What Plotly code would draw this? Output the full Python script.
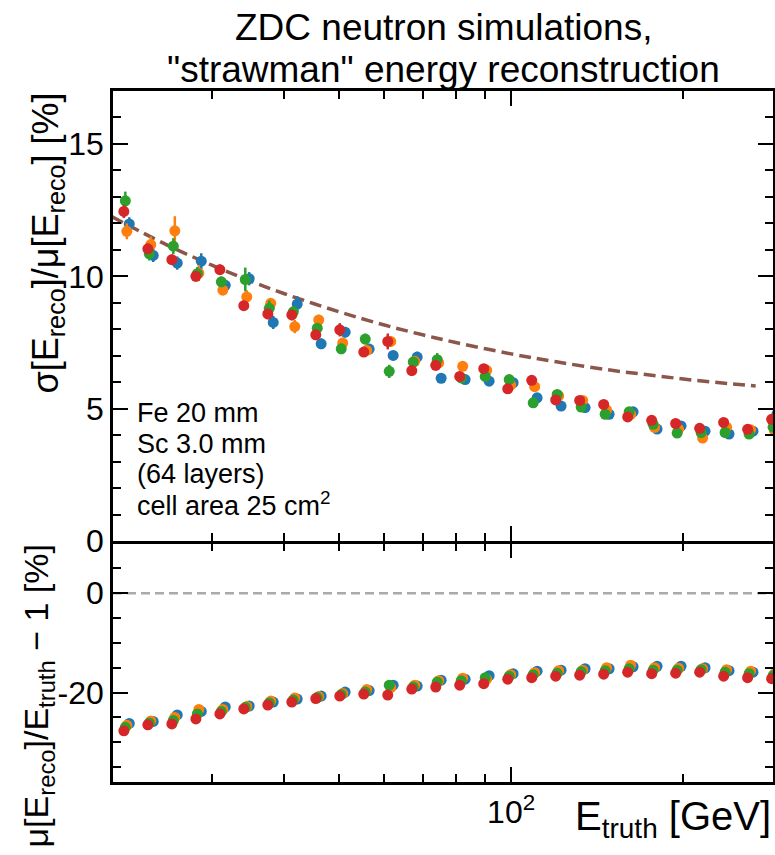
import plotly.graph_objects as go

# ---------------- data ----------------
energy_gev = [20.99, 23.12, 25.47, 28.06, 30.91, 34.04, 37.50, 41.31, 45.50, 50.12,
              55.21, 60.82, 67.00, 73.80, 81.29, 89.55, 98.64, 108.66, 119.69, 131.84,
              145.23, 159.98, 176.22, 194.12, 213.83, 235.54, 259.45, 285.80]

series_names = ["blue", "orange", "green", "red"]
series_colors = ["#1f77b4", "#ff7f0e", "#2ca02c", "#d62728"]

res_blue = [11.98, 10.79, 10.50, 10.57, 9.66, 9.91, 8.26, 8.95, 7.45, 7.89, 7.25, 7.01, 6.95, 6.15,
            6.10, 6.04, 5.98, 5.41, 5.10, 5.04, 4.79, 4.88, 4.23, 4.35, 4.15, 4.04, 4.15, 4.80]
res_orange = [11.70, 11.20, 11.72, 10.12, 9.48, 9.22, 8.98, 8.10, 8.35, 7.48, 7.20, 7.54, 6.79, 6.73,
              6.60, 6.45, 5.89, 5.83, 5.48, 5.31, 4.95, 4.79, 4.29, 4.22, 3.89, 4.30, 4.20, 4.16]
res_green = [12.85, 10.85, 11.14, 10.10, 9.79, 9.88, 8.79, 8.66, 8.04, 7.26, 7.63, 6.41, 6.76, 6.85,
             6.16, 6.22, 6.10, 5.22, 5.54, 5.06, 4.79, 4.88, 4.41, 4.08, 4.10, 4.10, 4.04, 4.30]
res_red = [12.45, 11.04, 10.63, 10.00, 10.25, 8.89, 8.58, 8.54, 7.79, 7.98, 7.14, 7.54, 6.44, 6.64,
           6.22, 6.51, 5.75, 6.07, 5.33, 5.31, 5.16, 4.69, 4.56, 4.44, 4.26, 4.48, 4.22, 4.60]

res_err_blue = [0.25, 0.25, 0.25, 0.30, 0.20, 0.25, 0.25, 0.30, 0.20, 0.20, 0.20, 0.18, 0.20, 0.18,
                0.15, 0.15, 0.15, 0.15, 0.15, 0.12, 0.12, 0.12, 0.12, 0.12, 0.10, 0.10, 0.10, 0.10]
res_err_orange = [0.30, 0.30, 0.55, 0.30, 0.20, 0.25, 0.20, 0.25, 0.20, 0.20, 0.20, 0.20, 0.18, 0.18,
                  0.15, 0.15, 0.15, 0.15, 0.12, 0.12, 0.12, 0.12, 0.12, 0.10, 0.10, 0.10, 0.10, 0.10]
res_err_green = [0.35, 0.25, 0.30, 0.25, 0.20, 0.45, 0.30, 0.20, 0.20, 0.20, 0.20, 0.25, 0.20, 0.25,
                 0.15, 0.15, 0.15, 0.15, 0.15, 0.12, 0.12, 0.12, 0.12, 0.12, 0.10, 0.10, 0.10, 0.10]
res_err_red = [0.25, 0.20, 0.20, 0.20, 0.20, 0.20, 0.20, 0.20, 0.20, 0.25, 0.18, 0.30, 0.20, 0.20,
               0.15, 0.15, 0.15, 0.15, 0.15, 0.12, 0.12, 0.12, 0.12, 0.12, 0.10, 0.10, 0.10, 0.10]

bias_blue = [-26.2, -25.8, -24.5, -23.8, -22.9, -22.7, -21.9, -21.3, -20.7, -19.9, -19.6, -18.5, -18.7, -17.5,
             -17.3, -16.6, -16.2, -15.7, -15.5, -15.2, -15.2, -14.8, -14.7, -14.7, -15.0, -15.6, -15.9, -16.4]
bias_orange = [-26.6, -25.7, -25.0, -23.4, -23.4, -22.8, -21.7, -21.1, -20.8, -20.2, -19.4, -19.0, -18.5, -17.6,
               -17.1, -17.3, -16.4, -16.0, -15.6, -15.5, -15.0, -14.5, -15.0, -15.1, -15.2, -15.4, -15.7, -16.2]
bias_green = [-27.0, -26.1, -25.6, -24.3, -23.8, -23.0, -22.1, -21.5, -21.0, -20.4, -19.9, -18.5, -18.9, -17.9,
              -17.6, -17.0, -16.7, -16.4, -16.1, -15.8, -15.6, -15.2, -15.5, -15.5, -15.4, -15.9, -16.2, -16.6]
bias_red = [-27.7, -26.5, -26.3, -25.3, -24.3, -23.3, -22.5, -21.9, -21.2, -20.7, -20.3, -20.5, -19.3, -18.9,
            -18.5, -18.2, -17.3, -17.0, -16.7, -16.5, -16.3, -15.9, -16.2, -16.1, -15.9, -16.7, -17.0, -17.2]
bias_err = [0.3] * 28

# requirement curve (50%/sqrt(E) + 5% in quadrature)
req_energy = [20, 25, 30, 35, 40, 50, 60, 70, 80, 100, 120, 150, 180, 210, 240, 268]
req_res = [12.25, 11.18, 10.41, 9.82, 9.35, 8.66, 8.16, 7.79, 7.50, 7.07, 6.77, 6.45, 6.24, 6.07, 5.95, 5.86]

x_tickvals = [100]
x_ticktext = ["10<sup>2</sup>"]
x_minor_vals = [30, 40, 50, 60, 70, 80, 90, 200]
top_tickvals = [0, 5, 10, 15]
bot_tickvals = [-20, 0]
bot_ticktext = ["-20", "0"]

title_lines = ["ZDC neutron simulations,", '"strawman" energy reconstruction']
info_lines = ["Fe 20 mm", "Sc 3.0 mm", "(64 layers)", "cell area 25 cm<sup>2</sup>"]

# ---------------- figure ----------------
W, H = 775, 855
ML, MR, MT, MB = 113, 2, 91, 73
PW, PH = W - ML - MR, H - MT - MB
LW = 2.5


def px(x):
    return (x - ML) / PW


def py(y):
    return (H - MB - y) / PH


split = py(542.3)
half_gap = (LW / 2) / PH
FONT = "Liberation Sans, Arial, Helvetica, sans-serif"

res_all = [res_blue, res_orange, res_green, res_red]
res_err_all = [res_err_blue, res_err_orange, res_err_green, res_err_red]
bias_all = [bias_blue, bias_orange, bias_green, bias_red]
x_dodge = [1.022, 1.012, 1.006, 1.0]

fig = go.Figure()

fig.add_trace(go.Scatter(x=req_energy, y=req_res, mode="lines", line_shape="spline",
                         line=dict(color="#8c564b", width=3.5, dash="12px,6px"),
                         xaxis="x2", yaxis="y2", hoverinfo="skip"))

for name, col, r, re, b, d in zip(series_names, series_colors, res_all, res_err_all, bias_all, x_dodge):
    xs = [e * d for e in energy_gev]
    fig.add_trace(go.Scatter(
        x=xs, y=r, mode="markers", name=name,
        marker=dict(color=col, size=11, line=dict(width=0)),
        error_y=dict(type="data", array=re, color=col, thickness=2.5, width=0),
        xaxis="x2", yaxis="y2"))
    fig.add_trace(go.Scatter(
        x=xs, y=b, mode="markers", name=name,
        marker=dict(color=col, size=11, line=dict(width=0)),
        error_y=dict(type="data", array=bias_err, color=col, thickness=2.5, width=0),
        xaxis="x", yaxis="y"))

axis_common = dict(showline=True, linecolor="black", linewidth=LW, mirror="ticks",
                   ticks="inside", ticklen=15, tickwidth=1.5, tickcolor="black",
                   showgrid=False, zeroline=False,
                   tickfont=dict(family=FONT, size=32, color="black"))
minor_common = dict(ticks="inside", ticklen=8, tickwidth=1.5, tickcolor="black", showgrid=False)

fig.update_layout(
    width=W, height=H, margin=dict(l=ML, r=MR, t=MT, b=MB, autoexpand=False),
    paper_bgcolor="white", plot_bgcolor="white", showlegend=False,
    font=dict(family=FONT, color="black"),
    xaxis=dict(type="log", range=[1.303, 2.4585], anchor="y", domain=[0, 1],
               tickmode="array", tickvals=x_tickvals, ticktext=x_ticktext,
               minor=dict(tickmode="array", tickvals=x_minor_vals, **minor_common),
               **axis_common),
    xaxis2=dict(type="log", range=[1.303, 2.4585], anchor="y2", matches="x", domain=[0, 1],
                tickmode="array", tickvals=x_tickvals, ticktext=x_ticktext, showticklabels=False,
                minor=dict(tickmode="array", tickvals=x_minor_vals, **minor_common),
                **axis_common),
    yaxis=dict(domain=[0, split - half_gap], range=[-38, 10], anchor="x",
               tickmode="array", tickvals=bot_tickvals, ticktext=bot_ticktext,
               minor=dict(tickmode="linear", tick0=0, dtick=5, **minor_common),
               **axis_common),
    yaxis2=dict(domain=[split + half_gap, 1], range=[0, 17], anchor="x2",
                tickmode="array", tickvals=top_tickvals,
                minor=dict(tickmode="linear", tick0=0, dtick=1, **minor_common),
                **axis_common),
)

fig.add_shape(type="line", xref="x domain", yref="y", x0=0, x1=1, y0=0, y1=0,
              line=dict(color="#aaaaaa", width=2.5, dash="9px,5px"), layer="below")

ann = []
ann.append(dict(text=title_lines[0], x=0.5, y=py(27), xref="paper", yref="paper",
                xanchor="center", yanchor="middle", showarrow=False, font=dict(size=37)))
ann.append(dict(text=title_lines[1], x=0.5, y=py(69.5), xref="paper", yref="paper",
                xanchor="center", yanchor="middle", showarrow=False, font=dict(size=37)))
ann.append(dict(text="E<sub>truth</sub> [GeV]", x=1.0, y=py(792), xref="paper", yref="paper",
                xanchor="right", yanchor="top", showarrow=False, font=dict(size=40)))
ann.append(dict(text="σ[E<sub>reco</sub>]/μ[E<sub>reco</sub>] [%]", x=px(47), y=py(91),
                xref="paper", yref="paper", xanchor="center", yanchor="top", textangle=-90,
                showarrow=False, font=dict(size=36)))
ann.append(dict(text="μ[E<sub>reco</sub>]/E<sub>truth</sub> − 1 [%]", x=px(38), y=py(543),
                xref="paper", yref="paper", xanchor="center", yanchor="top", textangle=-90,
                showarrow=False, font=dict(size=34)))
for i, line in enumerate(info_lines):
    base = [421.7, 452.7, 483.3, 513.3][i]
    ann.append(dict(text=line, x=px(135), y=py(base - 9), xref="paper", yref="paper",
                    xanchor="left", yanchor="middle", showarrow=False, font=dict(size=27)))
fig.update_layout(annotations=ann)

fig.write_html("out.html")
